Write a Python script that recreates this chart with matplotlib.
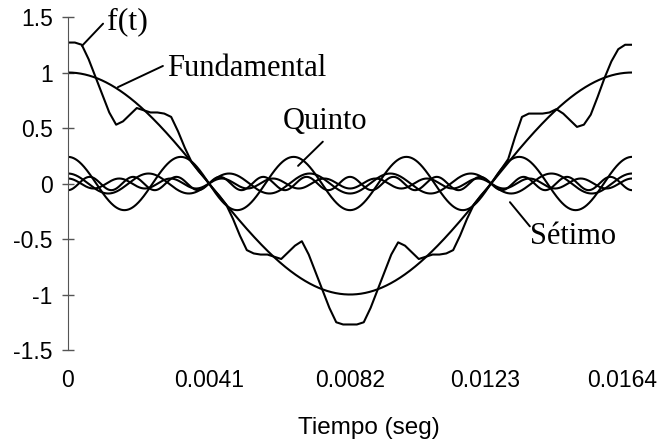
import numpy as np
import matplotlib.pyplot as plt
import matplotlib.transforms as mtransforms
from matplotlib.ticker import FuncFormatter

# Data
period = 0.0164                          # one cycle of the fundamental (s)
orders = [1, 5, 7, 11, 13]               # harmonic orders drawn
amps = [1.0, 0.24, 0.09, 0.045, -0.06]   # peak values at t = 0

# f(t)
f_time = [0, 0.0002, 0.0004, 0.0006, 0.0008, 0.001, 0.0012, 0.0014, 0.0016, 0.0018,
          0.002, 0.0022, 0.0024, 0.0026, 0.0028, 0.003, 0.0032, 0.0034, 0.0036, 0.0038,
          0.004, 0.0041,
          0.0042, 0.0044, 0.0046, 0.0048, 0.005, 0.0052, 0.0054, 0.0056, 0.0058, 0.006,
          0.0062, 0.0064, 0.0066, 0.0068, 0.007, 0.0072, 0.0074, 0.0076, 0.0078, 0.008,
          0.0082,
          0.0084, 0.0086, 0.0088, 0.009, 0.0092, 0.0094, 0.0096, 0.0098, 0.01, 0.0102,
          0.0104, 0.0106, 0.0108, 0.011, 0.0112, 0.0114, 0.0116, 0.0118, 0.012, 0.0122,
          0.0123,
          0.0124, 0.0126, 0.0128, 0.013, 0.0132, 0.0134, 0.0136, 0.0138, 0.014, 0.0142,
          0.0144, 0.0146, 0.0148, 0.015, 0.0152, 0.0154, 0.0156, 0.0158, 0.016, 0.0162,
          0.0164]
f_vals = [1.27, 1.27, 1.25, 1.12, 0.96, 0.80, 0.64, 0.53, 0.56, 0.62,
          0.68, 0.66, 0.64, 0.64, 0.63, 0.60, 0.47, 0.32, 0.19, 0.11,
          0.04, 0.0,
          -0.04, -0.11, -0.19, -0.32, -0.47, -0.60, -0.63, -0.64, -0.64, -0.66,
          -0.68, -0.62, -0.56, -0.52, -0.64, -0.80, -0.96, -1.12, -1.25, -1.27,
          -1.27,
          -1.27, -1.25, -1.12, -0.96, -0.80, -0.64, -0.53, -0.56, -0.62, -0.68,
          -0.66, -0.64, -0.64, -0.63, -0.60, -0.47, -0.32, -0.19, -0.11, -0.04,
          0.0,
          0.04, 0.13, 0.22, 0.42, 0.60, 0.63, 0.63, 0.63, 0.64, 0.67,
          0.63, 0.57, 0.51, 0.53, 0.62, 0.78, 0.95, 1.10, 1.21, 1.25,
          1.25]

x_ticks = [0, 0.0041, 0.0082, 0.0123, 0.0164]
x_tick_labels = ["0", "0.0041", "0.0082", "0.0123", "0.0164"]
y_ticks = [-1.5, -1, -0.5, 0, 0.5, 1, 1.5]

t = np.linspace(0, period, 1200)
w = 2 * np.pi / period

fig = plt.figure(figsize=(6.62, 4.43), dpi=100)
ax = fig.add_axes([0.1027, 0.2099, 0.852, 0.7517])

for n, a in zip(orders, amps):
    ax.plot(t, a * np.cos(n * w * t), color="black", lw=1.5)
ax.plot(f_time, f_vals, color="black", lw=1.5)

ax.set_xlim(0, period)
ax.set_ylim(-1.5, 1.5)
for s in ["top", "right", "bottom"]:
    ax.spines[s].set_visible(False)
ax.spines["left"].set_color("#555555")

ax.set_yticks(y_ticks)
ax.yaxis.set_major_formatter(FuncFormatter(lambda v, p: f"{v:g}"))
ax.tick_params(axis="y", direction="inout", length=8, width=1, color="#555555",
               labelsize=16.5, pad=7)
ax.set_xticks(x_ticks)
ax.set_xticklabels(x_tick_labels)
ax.tick_params(axis="x", length=0, labelsize=16.5, pad=14)
for lab in ax.get_xticklabels() + ax.get_yticklabels():
    lab.set_family("Liberation Sans")

# the last two x labels sit a little left of their ticks in the original
xl = ax.get_xticklabels()
for lab, dx in [(xl[3], -6), (xl[4], -10)]:
    lab.set_transform(lab.get_transform() +
                      mtransforms.ScaledTranslation(dx / 100, 0, fig.dpi_scale_trans))

fig.text(369 / 662, 1 - 428 / 443, "Tiempo (seg)", ha="center", va="center",
         fontsize=17.5, family="Liberation Sans")

# curve labels with leader lines
serif = dict(family="Liberation Serif", va="center", ha="left")
labels = [
    ("f(t)", (0.000407, 1.24), (0.00102, 1.44), (0.00113, 1.455), 23),
    ("Fundamental", (0.00145, 0.868), (0.00276, 1.059), (0.00288, 1.04), 22),
    ("Quinto", (0.00669, 0.159), (0.00741, 0.377), (0.00625, 0.559), 22),
    ("Sétimo", (0.01285, -0.168), (0.01343, -0.386), (0.01343, -0.477), 22),
]
for txt, p0, p1, pt, fs in labels:
    ax.annotate("", xy=p0, xytext=p1, annotation_clip=False,
                arrowprops=dict(arrowstyle="-", color="black", lw=1.4,
                                shrinkA=0, shrinkB=0))
    ax.text(pt[0], pt[1], txt, clip_on=False, fontsize=fs, **serif)

fig.savefig("out.png", dpi=100)
